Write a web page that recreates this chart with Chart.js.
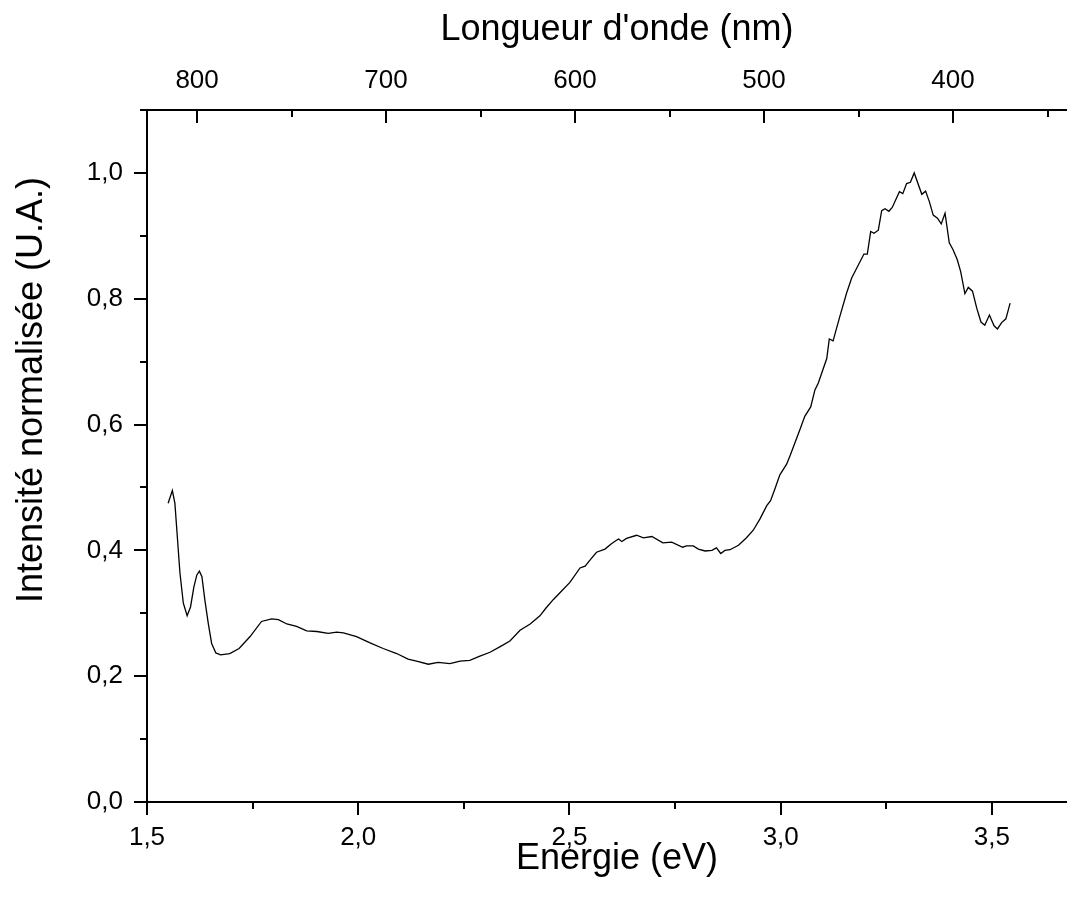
<!DOCTYPE html>
<html><head><meta charset="utf-8">
<script src="https://cdn.jsdelivr.net/npm/chart.js@4.4.1/dist/chart.umd.min.js"></script>
<style>
html,body{margin:0;padding:0;overflow:hidden;background:#fff;width:1067px;height:911px}
#wrap{width:1067px;height:911px;overflow:hidden;position:relative}
canvas{display:block}
</style></head>
<body><div id="wrap"><canvas id="c" width="1090" height="911"></canvas></div>
<script>
const energy = [1.550,1.560,1.566,1.570,1.578,1.586,1.595,1.603,1.611,1.618,1.624,1.630,1.637,1.645,1.653,1.663,1.674,1.696,1.718,1.744,1.771,1.795,1.811,1.831,1.854,1.878,1.902,1.929,1.949,1.965,1.996,2.028,2.059,2.091,2.118,2.138,2.166,2.189,2.217,2.241,2.264,2.288,2.312,2.336,2.359,2.383,2.407,2.430,2.444,2.462,2.478,2.501,2.525,2.537,2.549,2.564,2.584,2.600,2.616,2.624,2.635,2.659,2.675,2.695,2.721,2.742,2.768,2.777,2.793,2.805,2.821,2.837,2.848,2.858,2.868,2.880,2.900,2.919,2.935,2.951,2.967,2.976,2.986,2.998,3.014,3.023,3.046,3.057,3.071,3.081,3.089,3.109,3.115,3.124,3.140,3.156,3.168,3.184,3.197,3.205,3.213,3.221,3.231,3.239,3.247,3.256,3.264,3.281,3.289,3.298,3.307,3.316,3.334,3.343,3.352,3.361,3.371,3.380,3.389,3.399,3.408,3.418,3.426,3.436,3.444,3.454,3.464,3.474,3.483,3.494,3.505,3.513,3.523,3.533,3.543];
const intensity = [0.475,0.495,0.475,0.438,0.364,0.316,0.296,0.310,0.342,0.361,0.367,0.358,0.321,0.284,0.252,0.237,0.234,0.236,0.244,0.263,0.287,0.291,0.290,0.283,0.279,0.272,0.271,0.268,0.270,0.269,0.263,0.253,0.244,0.236,0.227,0.224,0.219,0.222,0.220,0.224,0.225,0.232,0.238,0.247,0.256,0.273,0.283,0.296,0.308,0.322,0.333,0.349,0.372,0.375,0.385,0.397,0.402,0.411,0.418,0.414,0.419,0.424,0.420,0.422,0.412,0.413,0.405,0.407,0.407,0.402,0.399,0.400,0.404,0.395,0.400,0.401,0.408,0.420,0.432,0.450,0.471,0.479,0.497,0.520,0.537,0.552,0.593,0.613,0.628,0.655,0.666,0.705,0.736,0.733,0.772,0.809,0.833,0.854,0.871,0.871,0.907,0.904,0.909,0.940,0.943,0.939,0.945,0.970,0.967,0.983,0.985,1.000,0.966,0.971,0.954,0.933,0.928,0.919,0.936,0.889,0.878,0.862,0.843,0.808,0.818,0.812,0.785,0.763,0.758,0.774,0.757,0.752,0.762,0.768,0.793];

const energyMajorTicks = [1.5, 2.0, 2.5, 3.0, 3.5];
const energyMinorTicks = [1.75, 2.25, 2.75, 3.25];
const intensityMajorTicks = [0.0, 0.2, 0.4, 0.6, 0.8, 1.0];
const intensityMinorTicks = [0.1, 0.3, 0.5, 0.7, 0.9, 1.1];
const wavelengthMajorTicks = [800, 700, 600, 500, 400];
const wavelengthMinorTicks = [750, 650, 550, 450, 350];

const xTitle = 'Energie (eV)';
const topTitle = "Longueur d'onde (nm)";
const yTitle = 'Intensité normalisée (U.A.)';

const FONT = "'Liberation Sans', Arial, Helvetica, sans-serif";
Chart.defaults.font.family = FONT;
Chart.defaults.color = '#000';

const fmt = v => Number(v).toFixed(1).replace('.', ',');

const tickMarks = {
  id: 'tickMarks',
  afterDraw(chart) {
    const ctx = chart.ctx;
    const sx = chart.scales.x, sy = chart.scales.y, sw = chart.scales.x2;
    ctx.save();
    ctx.strokeStyle = '#000';
    ctx.lineWidth = 2;
    ctx.lineCap = 'butt';
    const seg = (a, b, c, d) => { ctx.beginPath(); ctx.moveTo(a, b); ctx.lineTo(c, d); ctx.stroke(); };
    energyMajorTicks.forEach(v => { const p = Math.round(sx.getPixelForValue(v)); seg(p, sx.top, p, sx.top + 13); });
    energyMinorTicks.forEach(v => { const p = Math.round(sx.getPixelForValue(v)); seg(p, sx.top, p, sx.top + 7); });
    intensityMajorTicks.forEach(v => { const p = Math.round(sy.getPixelForValue(v)); seg(sy.right, p, sy.right - 13, p); });
    intensityMinorTicks.forEach(v => { const p = Math.round(sy.getPixelForValue(v)); seg(sy.right, p, sy.right - 7, p); });
    wavelengthMajorTicks.forEach(v => { const p = Math.round(sw.getPixelForValue(v)); seg(p, sw.bottom, p, sw.bottom + 13); });
    wavelengthMinorTicks.forEach(v => { const p = Math.round(sw.getPixelForValue(v)); seg(p, sw.bottom, p, sw.bottom + 7); });

    // y-axis title (placed as in the reference, above the axis centre)
    ctx.save();
    ctx.translate(sy.left + 31.6, 390);
    ctx.rotate(-Math.PI / 2);
    ctx.font = '36px ' + FONT;
    ctx.fillStyle = '#000';
    ctx.textAlign = 'center';
    ctx.textBaseline = 'middle';
    ctx.fillText(yTitle, 0, 0);
    ctx.restore();
    ctx.restore();
  }
};

const hiddenGrid = { display: true, drawOnChartArea: false, drawTicks: false, color: 'rgba(0,0,0,0)' };
const axisBorder = { display: true, color: '#000', width: 2 };

new Chart(document.getElementById('c'), {
  type: 'line',
  data: {
    datasets: [{
      data: energy.map((e, i) => ({ x: e, y: intensity[i] })),
      borderColor: '#000',
      borderWidth: 1.3,
      pointRadius: 0,
      fill: false,
      tension: 0
    }]
  },
  options: {
    responsive: false,
    animation: false,
    events: [],
    layout: { padding: { left: 0, right: 3, top: 0, bottom: 0 } },
    plugins: { legend: { display: false }, tooltip: { enabled: false } },
    scales: {
      x: {
        type: 'linear', position: 'bottom', min: 1.5, max: 3.725,
        afterBuildTicks: s => { s.ticks = energyMajorTicks.map(v => ({ value: v })); },
        ticks: { callback: v => fmt(v), font: { size: 26 }, padding: 20, color: '#000', maxRotation: 0, autoSkip: false },
        grid: hiddenGrid, border: axisBorder,
        title: { display: true, text: xTitle, font: { size: 36 }, color: '#000', padding: { top: 0, bottom: 30 } },
        afterFit: s => { s.height = 109; }
      },
      x2: {
        type: 'linear', position: 'top', min: 329.1, max: 826.5, reverse: true,
        afterBuildTicks: s => { s.ticks = wavelengthMajorTicks.map(v => ({ value: v })); },
        ticks: { callback: v => String(v), font: { size: 26 }, padding: 14, color: '#000', maxRotation: 0, autoSkip: false },
        grid: hiddenGrid, border: axisBorder,
        title: { display: true, text: topTitle, font: { size: 36 }, color: '#000', padding: { top: 8, bottom: 0 } },
        afterFit: s => { s.height = 110; }
      },
      y: {
        type: 'linear', position: 'left', min: 0, max: 1.1,
        afterBuildTicks: s => { s.ticks = intensityMajorTicks.map(v => ({ value: v })); },
        ticks: { callback: v => fmt(v), font: { size: 26 }, padding: 24, color: '#000', autoSkip: false },
        grid: hiddenGrid, border: axisBorder,
        title: { display: false, text: yTitle },
        afterFit: s => { s.width = 147; }
      }
    }
  },
  plugins: [tickMarks]
});
</script>
</body></html>
